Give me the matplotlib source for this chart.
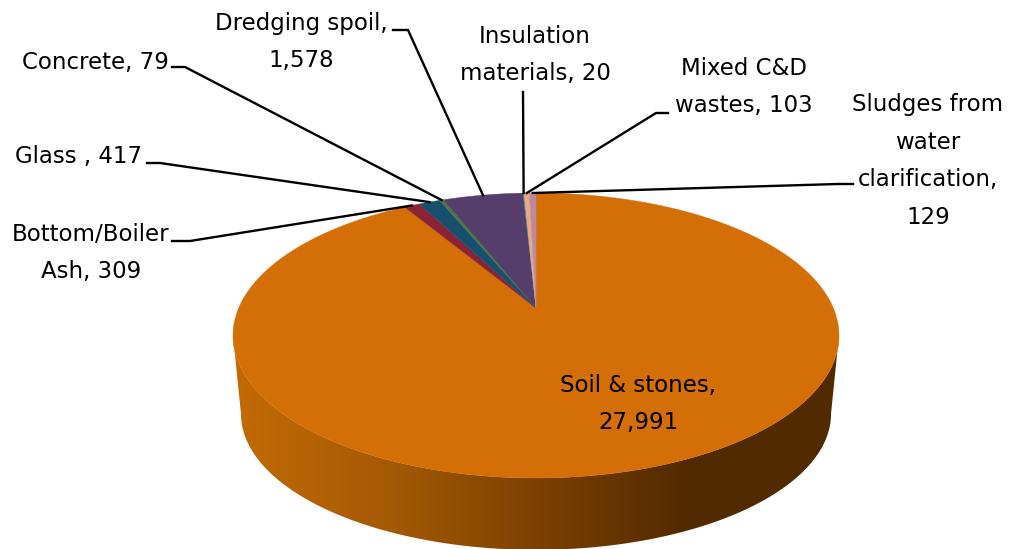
import numpy as np
import matplotlib
matplotlib.use('Agg')
import matplotlib.pyplot as plt
from matplotlib.colors import LinearSegmentedColormap
from matplotlib.patches import Polygon

# clockwise from 12 o'clock
categories = ['Soil & stones,\n27,991', 'Bottom/Boiler\nAsh, 309', 'Glass , 417', 'Concrete, 79',
              'Dredging spoil,\n1,578', 'Insulation\nmaterials, 20', 'Mixed C&D\nwastes, 103',
              'Sludges from\nwater\nclarification,\n129']
values = [27991, 309, 417, 79, 1578, 20, 103, 129]
colors = ['#d46e06', '#8b2334', '#17506f', '#4b7a3b', '#553e6b', '#3f8fa8', '#f2a77a', '#b88ba2']

# label centre, then elbow of the leader line (pixels)
label_pos = [(638, 404), (91, 253), (79, 157), (95, 63), (301, 42), (535, 55), (744, 87), (928, 161)]
elbows = [None, [(172, 241), (190, 241)], [(147, 163), (160, 163)], [(172, 67), (185, 67)],
          [(393, 30), (408, 30)], [(523, 92), (523, 92)], [(668, 113), (656, 113)], [(853, 184), (838, 184)]]

# tilted disc: circle seen through a perspective, the apex is not the ellipse centre
K = -0.193
def project(theta, x0=536.0, y0=308.0, a=297.3, b=137.2):
    u, v = np.sin(theta), np.cos(theta)
    d = 1 - K * v
    return x0 + a * u / d, y0 - b * v / d

fig = plt.figure(figsize=(10.11, 5.49), dpi=100)
ax = fig.add_axes([0, 0, 1, 1])
ax.axis('off')

# side wall
grid = np.linspace(0, 2 * np.pi, 721)
tx, ty = project(grid)
bx, by = project(grid, x0=536.0, y0=387.5, a=289.5, b=131.0)
front_t = (grid >= grid[np.argmax(tx)]) & (grid <= grid[np.argmin(tx)])
wall = np.vstack([np.column_stack([tx[front_t], ty[front_t]]),
                  np.column_stack([bx[front_t], by[front_t]])[::-1]])
wall_cmap = LinearSegmentedColormap.from_list('wall', [(0, '#c26b06'), (0.25, '#a65a04'), (0.5, '#7c4101'),
                                                       (0.75, '#522a00'), (1, '#522a00')])
img = ax.imshow(np.linspace(0, 1, 256)[None, :], cmap=wall_cmap, extent=(233, 840, 549, 330),
                aspect='auto', zorder=1)
clip = Polygon(wall, closed=True, transform=ax.transData)
img.set_clip_path(clip)

# top slices
edges = np.concatenate([[0], np.cumsum(values)]) / np.sum(values) * 2 * np.pi
for i in range(len(values)):
    th = np.linspace(edges[i], edges[i + 1], max(4, int(np.degrees(edges[i + 1] - edges[i])) * 2))
    sx, sy = project(th)
    ax.fill(np.r_[536.0, sx], np.r_[308.0, sy], color=colors[i], lw=0.3, zorder=2)

# leaders and labels
for i, name in enumerate(categories):
    if elbows[i] is not None:
        mid = (edges[i] + edges[i + 1]) / 2
        ex, ey = project(mid)
        px = [p[0] for p in elbows[i]] + [ex]
        py = [p[1] for p in elbows[i]] + [ey]
        ax.plot(px, py, color='black', lw=1.7, zorder=3, solid_joinstyle='miter')
    ax.text(label_pos[i][0], label_pos[i][1], name, ha='center', va='center', fontsize=16.5,
            linespacing=1.8, color='black', zorder=4)

ax.set_xlim(0, 1011)
ax.set_ylim(549, 0)
fig.savefig('out.png', dpi=100)
